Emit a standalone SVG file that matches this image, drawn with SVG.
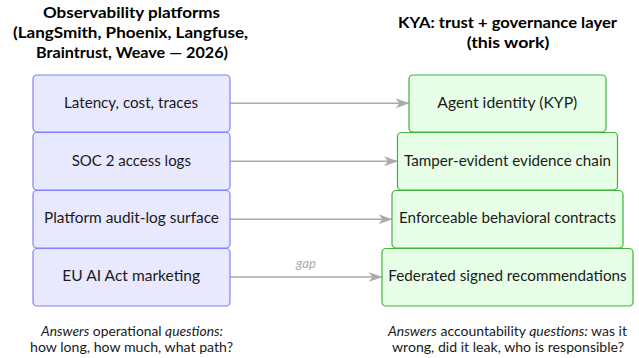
<svg xmlns="http://www.w3.org/2000/svg" width="639" height="358" viewBox="0 0 639 358">
<defs>
<style>
text{font-family:Lato,"Open Sans","DejaVu Sans",sans-serif;fill:#1a1a1a}
.title{font-weight:bold;font-size:15.4px;text-anchor:middle;fill:#000}
.lbl{font-size:15.3px;text-anchor:middle}
.cap{font-size:12.8px;text-anchor:middle}
.obs{fill:#e8e8ff;stroke:#8080ff;stroke-width:1.2}
.kya{fill:#e6ffe6;stroke:#3cb43c;stroke-width:1.2}
.edge{stroke:#aaaaaa;stroke-width:1.5;fill:none;marker-end:url(#ah)}
.gap{font-size:12.5px;font-style:italic;fill:#aaaaaa;text-anchor:middle}
</style>
<marker id="ah" viewBox="0 0 14 10" refX="13" refY="5" markerWidth="14" markerHeight="10" markerUnits="userSpaceOnUse" orient="auto">
<path d="M0,0 L14,5 L0,10 L4,5 Z" fill="#aaaaaa"/>
</marker>
</defs>
<g id="titles">
<text class="title" x="131.5" y="18" textLength="177" lengthAdjust="spacingAndGlyphs">Observability platforms</text>
<text class="title" x="130.5" y="38" textLength="235" lengthAdjust="spacingAndGlyphs">(LangSmith, Phoenix, Langfuse,</text>
<text class="title" x="132" y="58" textLength="192" lengthAdjust="spacingAndGlyphs">Braintrust, Weave — 2026)</text>
<text class="title" x="507.5" y="28" textLength="219" lengthAdjust="spacingAndGlyphs">KYA: trust + governance layer</text>
<text class="title" x="508" y="48" textLength="82.7" lengthAdjust="spacingAndGlyphs">(this work)</text>
</g>
<g id="connectors">
<line class="edge" x1="230" y1="103.3" x2="408.5" y2="103.3"/>
<line class="edge" x1="230" y1="161.2" x2="397" y2="161.2"/>
<line class="edge" x1="230" y1="219.2" x2="391.5" y2="219.2"/>
<line class="edge" x1="230" y1="277" x2="381.5" y2="277"/>
<text class="gap" x="306" y="268" textLength="20" lengthAdjust="spacingAndGlyphs">gap</text>
</g>
<g id="obs1"><rect class="obs" x="33" y="75" width="197" height="57" rx="4"/><text class="lbl" x="131" y="107.7" textLength="134" lengthAdjust="spacingAndGlyphs">Latency, cost, traces</text></g>
<g id="obs2"><rect class="obs" x="33" y="132.5" width="197" height="57.5" rx="4"/><text class="lbl" x="131.3" y="165.5" textLength="119.3" lengthAdjust="spacingAndGlyphs">SOC 2 access logs</text></g>
<g id="obs3"><rect class="obs" x="33" y="190.5" width="197" height="57.5" rx="4"/><text class="lbl" x="131.5" y="223.3" textLength="175" lengthAdjust="spacingAndGlyphs">Platform audit-log surface</text></g>
<g id="obs4"><rect class="obs" x="33" y="248.5" width="197" height="57.5" rx="4"/><text class="lbl" x="131.2" y="281.3" textLength="137.7" lengthAdjust="spacingAndGlyphs">EU AI Act marketing</text></g>
<g id="kya1"><rect class="kya" x="409" y="75" width="197" height="57" rx="4"/><text class="lbl" x="507.3" y="107.7" textLength="140" lengthAdjust="spacingAndGlyphs">Agent identity (KYP)</text></g>
<g id="kya2"><rect class="kya" x="397.5" y="132.5" width="220" height="57.5" rx="4"/><text class="lbl" x="507.5" y="165.5" textLength="207" lengthAdjust="spacingAndGlyphs">Tamper-evident evidence chain</text></g>
<g id="kya3"><rect class="kya" x="392" y="190.5" width="231" height="57.5" rx="4"/><text class="lbl" x="507.5" y="223.3" textLength="217" lengthAdjust="spacingAndGlyphs">Enforceable behavioral contracts</text></g>
<g id="kya4"><rect class="kya" x="382" y="248.5" width="251" height="57.5" rx="4"/><text class="lbl" x="507.5" y="281.3" textLength="238.3" lengthAdjust="spacingAndGlyphs">Federated signed recommendations</text></g>
<g id="captions">
<text class="cap" x="132" y="335.5" textLength="182" lengthAdjust="spacingAndGlyphs"><tspan font-style="italic">Answers</tspan> operational <tspan font-style="italic">questions:</tspan></text>
<text class="cap" x="131.5" y="351.5" textLength="203" lengthAdjust="spacingAndGlyphs">how long, how much, what path?</text>
<text class="cap" x="507.5" y="335.5" textLength="239" lengthAdjust="spacingAndGlyphs"><tspan font-style="italic">Answers</tspan> accountability <tspan font-style="italic">questions:</tspan> was it</text>
<text class="cap" x="508" y="351.5" textLength="232" lengthAdjust="spacingAndGlyphs">wrong, did it leak, who is responsible?</text>
</g>
</svg>
